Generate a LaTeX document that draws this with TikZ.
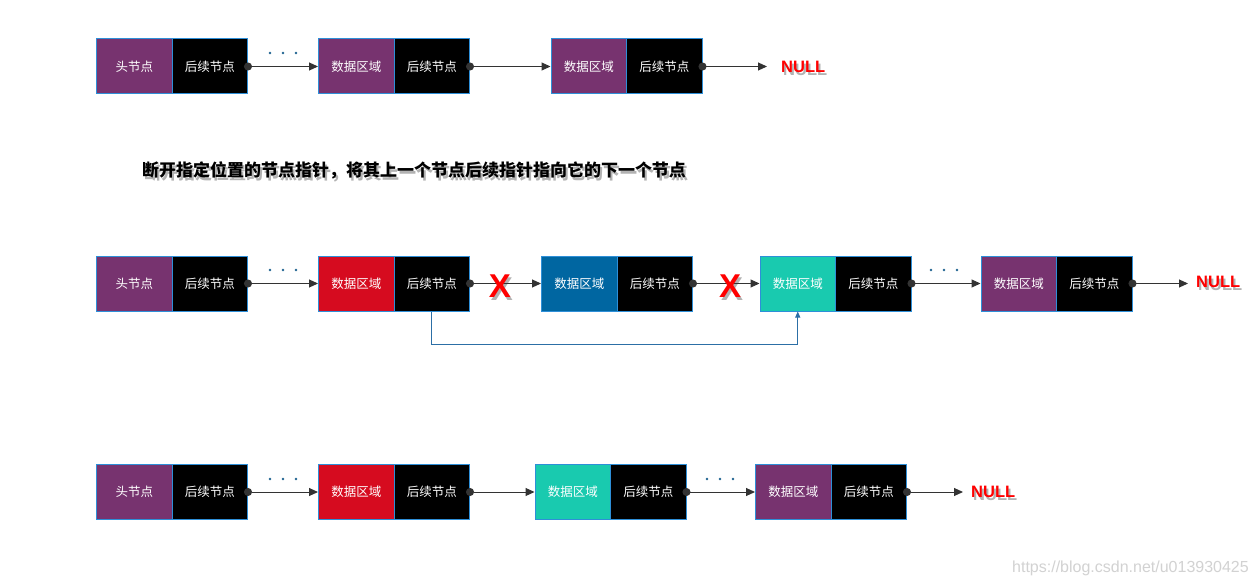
\documentclass[tikz,border=0pt]{standalone}
\usepackage{fontspec}
\setmainfont{Liberation Sans}
\newfontfamily\cjk{Noto Sans CJK SC}
\usetikzlibrary{arrows.meta,calc}
\definecolor{cpurple}{HTML}{77336F}
\definecolor{cred}{HTML}{D60B1F}
\definecolor{cblue}{HTML}{0066A1}
\definecolor{cteal}{HTML}{19CAAF}
\definecolor{cborder}{HTML}{2E8FD8}
\definecolor{cline}{HTML}{333333}
\definecolor{cdots}{HTML}{1F6391}
\definecolor{cbypass}{HTML}{2C6FA6}
\definecolor{cwm}{HTML}{D2D2D2}
\begin{document}
\begin{tikzpicture}[x=1pt,y=-1pt,
  cell/.style={rectangle, draw=cborder, line width=1pt, minimum width=75.5pt,
    minimum height=55pt, inner sep=0pt, anchor=west, text=white,
    font=\cjk\fontsize{12.5}{14}\selectfont},
  dcell/.style={cell, fill=#1},
  ncell/.style={cell, fill=black},
  conn/.style={draw=cline, line width=1pt, shorten <=-4pt,
    {Circle[length=8pt,width=8pt,fill=cline]}-{Triangle[length=9pt,width=8pt,fill=cline]}},
  bypass/.style={draw=cbypass, line width=0.9pt, -{Triangle[length=6pt,width=5pt]}},
  nulltxt/.style={inner sep=0pt, anchor=west, text=red, font=\bfseries\fontsize{16.5}{18}\selectfont},
  xtxt/.style={inner sep=0pt, text=red, font=\bfseries\fontsize{33}{36}\selectfont},
  titletxt/.style={inner sep=0pt, font=\cjk\bfseries\fontsize{17}{20}\selectfont},
  shadowtxt/.style={text=black, opacity=0.3},
  threedots/.style={fill=cdots},
]
\useasboundingbox (0,0) rectangle (1259,586);
\fill[white] (0,0) rectangle (1259,586);

% ---------------- shadows (drawn first) ----------------
\node[titletxt, shadowtxt] (tsh) at ($(414,170)+(2,3)$) {断开指定位置的节点指针，将其上一个节点后续指针指向它的下一个节点};
\node[nulltxt, shadowtxt] (n1sh) at ($(781,67)+(2,3)$) {NULL};
\node[nulltxt, shadowtxt] (n2sh) at ($(1196,282)+(2,3)$) {NULL};
\node[nulltxt, shadowtxt] (n3sh) at ($(971,492)+(2,3)$) {NULL};
\node[xtxt, shadowtxt] (x1sh) at ($(500,286)+(2,3)$) {X};
\node[xtxt, shadowtxt] (x2sh) at ($(730,286)+(2,3)$) {X};

% ---------------- row 1 ----------------
\node[dcell=cpurple] (a1d) at (96,66.5) {头节点};
\node[ncell] (a1n) at (171.5,66.5) {后续节点};
\node[dcell=cpurple] (a2d) at (318,66.5) {数据区域};
\node[ncell] (a2n) at (393.5,66.5) {后续节点};
\node[dcell=cpurple] (a3d) at (550.5,66.5) {数据区域};
\node[ncell] (a3n) at (626,66.5) {后续节点};
\node[nulltxt] (anull) at (781,67) {NULL};
\coordinate (aend) at (767,66.5);
\draw[conn] (a1n.east) -- (a2d.west);
\draw[conn] (a2n.east) -- (a3d.west);
\draw[conn] (a3n.east) -- (aend);
\foreach \x in {270,283,296} \fill[threedots] (\x,53) circle (1.4);

% ---------------- title ----------------
\node[titletxt] (title) at (414,170) {断开指定位置的节点指针，将其上一个节点后续指针指向它的下一个节点};

% ---------------- row 2 ----------------
\node[dcell=cpurple] (b1d) at (96,283.5) {头节点};
\node[ncell] (b1n) at (171.5,283.5) {后续节点};
\node[dcell=cred] (b2d) at (318,283.5) {数据区域};
\node[ncell] (b2n) at (393.5,283.5) {后续节点};
\node[dcell=cblue] (b3d) at (541,283.5) {数据区域};
\node[ncell] (b3n) at (616.5,283.5) {后续节点};
\node[dcell=cteal] (b4d) at (759.5,283.5) {数据区域};
\node[ncell] (b4n) at (835,283.5) {后续节点};
\node[dcell=cpurple] (b5d) at (980.5,283.5) {数据区域};
\node[ncell] (b5n) at (1056,283.5) {后续节点};
\node[nulltxt] (bnull) at (1196,282) {NULL};
\coordinate (bend) at (1188,283.5);
\draw[conn] (b1n.east) -- (b2d.west);
\draw[conn] (b2n.east) -- (b3d.west);
\draw[conn] (b3n.east) -- (b4d.west);
\draw[conn] (b4n.east) -- (b5d.west);
\draw[conn] (b5n.east) -- (bend);
\foreach \x in {270,283,296} \fill[threedots] (\x,270) circle (1.4);
\foreach \x in {931,944,957} \fill[threedots] (\x,270) circle (1.4);
\draw[bypass] (b2n.south) -- ++(0,32.5) -| (b4d.south);
\node[xtxt] (x1) at (500,286) {X};
\node[xtxt] (x2) at (730,286) {X};

% ---------------- row 3 ----------------
\node[dcell=cpurple] (c1d) at (96,492) {头节点};
\node[ncell] (c1n) at (171.5,492) {后续节点};
\node[dcell=cred] (c2d) at (318,492) {数据区域};
\node[ncell] (c2n) at (393.5,492) {后续节点};
\node[dcell=cteal] (c3d) at (534.5,492) {数据区域};
\node[ncell] (c3n) at (610,492) {后续节点};
\node[dcell=cpurple] (c4d) at (755,492) {数据区域};
\node[ncell] (c4n) at (830.5,492) {后续节点};
\node[nulltxt] (cnull) at (971,492) {NULL};
\coordinate (cend) at (963,492);
\draw[conn] (c1n.east) -- (c2d.west);
\draw[conn] (c2n.east) -- (c3d.west);
\draw[conn] (c3n.east) -- (c4d.west);
\draw[conn] (c4n.east) -- (cend);
\foreach \x in {270,283,296} \fill[threedots] (\x,479) circle (1.4);
\foreach \x in {707,720,733} \fill[threedots] (\x,479) circle (1.4);

% ---------------- watermark ----------------
\node[inner sep=0pt, anchor=east, text=cwm, font=\fontsize{16}{18}\selectfont] (wm) at (1249,568) {https://blog.csdn.net/u013930425};
\end{tikzpicture}
\end{document}
